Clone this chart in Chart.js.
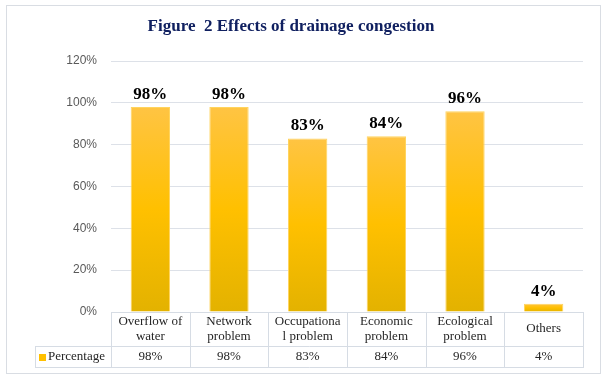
<!DOCTYPE html>
<html>
<head>
<meta charset="utf-8">
<script src="https://cdn.jsdelivr.net/npm/chart.js@4/dist/chart.umd.min.js"></script>
<style>
html,body{margin:0;padding:0;background:#fff;}
#wrap{width:606px;height:380px;position:relative;}
</style>
</head>
<body>
<div id="wrap"><canvas id="drainChart" width="606" height="380"></canvas></div>
<script>
const categories = [
  ['Overflow of', 'water'],
  ['Network', 'problem'],
  ['Occupationa', 'l problem'],
  ['Economic', 'problem'],
  ['Ecological', 'problem'],
  ['Others']
];
const percentages = [98, 98, 83, 84, 96, 4];
const seriesName = 'Percentage';
const titleText = 'Figure  2 Effects of drainage congestion';

/* ---- per-bar vertical gradient (Excel style) ---- */
function barFill(context) {
  const chart = context.chart;
  const area = chart.chartArea;
  if (!area) return '#ffc000';
  const y = chart.scales.y;
  const v = context.raw;
  const top = y.getPixelForValue(v);
  const bottom = y.getPixelForValue(0);
  if (!isFinite(top) || bottom - top < 1) return '#ffc000';
  const g = chart.ctx.createLinearGradient(0, top, 0, bottom);
  g.addColorStop(0, '#ffc443');
  g.addColorStop(0.5, '#ffc000');
  g.addColorStop(1, '#e3b200');
  return g;
}

/* ---- frame, title, data labels, data table ---- */
const extras = {
  id: 'extras',
  beforeDraw(chart) {
    const ctx = chart.ctx;
    ctx.save();
    ctx.fillStyle = '#fff';
    ctx.fillRect(0, 0, chart.width, chart.height);
    ctx.strokeStyle = '#d9dde3';
    ctx.lineWidth = 1;
    ctx.strokeRect(6.5, 5.5, 594, 368);
    ctx.fillStyle = '#102060';
    ctx.font = 'bold 17px "Liberation Serif", "Times New Roman", serif';
    ctx.textAlign = 'center';
    ctx.textBaseline = 'middle';
    ctx.fillText(titleText, 291, 27);
    ctx.restore();
  },
  afterDatasetsDraw(chart) {
    const ctx = chart.ctx;
    const meta = chart.getDatasetMeta(0);
    const xs = chart.scales.x;
    const area = chart.chartArea;
    ctx.save();

    // value labels above bars
    ctx.fillStyle = '#000';
    ctx.font = 'bold 17px "Liberation Serif", "Times New Roman", serif';
    ctx.textAlign = 'center';
    ctx.textBaseline = 'alphabetic';
    meta.data.forEach((bar, i) => {
      ctx.fillText(percentages[i] + '%', bar.x, bar.y - 8);
    });

    // data table under the axis
    const left = area.left, right = area.right;
    const top = area.bottom;
    const rowMid = top + 34;
    const bottom = top + 55;
    const legLeft = 35.5;
    const step = (right - left) / categories.length;

    ctx.strokeStyle = '#d6dce4';
    ctx.lineWidth = 1;
    ctx.beginPath();
    // horizontal lines
    ctx.moveTo(left, Math.round(top) + 0.5); ctx.lineTo(right, Math.round(top) + 0.5);
    ctx.moveTo(legLeft, Math.round(rowMid) + 0.5); ctx.lineTo(right, Math.round(rowMid) + 0.5);
    ctx.moveTo(legLeft, Math.round(bottom) + 0.5); ctx.lineTo(right, Math.round(bottom) + 0.5);
    // vertical lines
    ctx.moveTo(legLeft, Math.round(rowMid)); ctx.lineTo(legLeft, Math.round(bottom) + 1);
    for (let i = 0; i <= categories.length; i++) {
      const x = Math.round(left + step * i) + 0.5;
      ctx.moveTo(x, Math.round(top)); ctx.lineTo(x, Math.round(bottom) + 1);
    }
    ctx.stroke();

    ctx.fillStyle = '#262626';
    ctx.font = '13px "Liberation Serif", "Times New Roman", serif';
    ctx.textAlign = 'center';
    ctx.textBaseline = 'middle';
    categories.forEach((lines, i) => {
      const cx = xs.getPixelForValue(i);
      const h = 15;
      const y0 = top + 17 - (lines.length - 1) * h / 2;
      lines.forEach((t, k) => ctx.fillText(t, cx, y0 + k * h));
      ctx.fillText(percentages[i] + '%', cx, rowMid + 11);
    });

    // legend key cell
    ctx.fillStyle = '#ffc000';
    ctx.fillRect(39, rowMid + 8, 7, 7);
    ctx.fillStyle = '#262626';
    ctx.textAlign = 'left';
    ctx.fillText(seriesName, 48, rowMid + 11);

    ctx.restore();
  }
};

new Chart(document.getElementById('drainChart'), {
  type: 'bar',
  data: {
    labels: categories,
    datasets: [{
      label: seriesName,
      data: percentages,
      backgroundColor: barFill,
      borderColor: '#ffd45e',
      borderWidth: 1,
      barPercentage: 0.5,
      categoryPercentage: 1
    }]
  },
  options: {
    responsive: false,
    animation: false,
    layout: { padding: { top: 61, bottom: 68, left: 0, right: 23 } },
    scales: {
      x: { display: false },
      y: {
        min: 0,
        max: 120,
        afterFit(scale) { scale.width = 111; },
        border: { display: false },
        grid: { color: '#dde1e8', lineWidth: 1, drawTicks: false },
        ticks: {
          stepSize: 20,
          padding: 14,
          color: '#595959',
          font: { family: '"Liberation Sans", Arial, sans-serif', size: 12 },
          callback: v => v + '%'
        }
      }
    },
    plugins: {
      legend: { display: false },
      tooltip: { enabled: false },
      title: { display: false }
    }
  },
  plugins: [extras]
});
</script>
</body>
</html>
